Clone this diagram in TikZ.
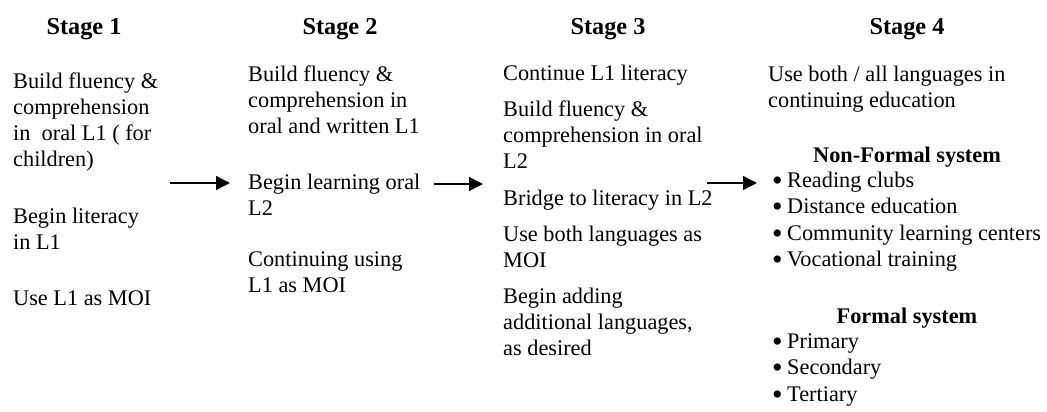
\documentclass[tikz,border=0pt]{standalone}
\usepackage{fontspec}
\setmainfont{Liberation Serif}
\usetikzlibrary{arrows.meta}
\usetikzlibrary{positioning}
\newcommand{\stagehead}[3]{\node(#1)[head] at (#2,35) {Stage #3}}
% node placed by the baseline of its last line
\newcommand{\pnode}[4]{\node(#1)[item] at (#2,#3) {#4}}
\newcommand{\bul}{\makebox[15pt][l]{\raisebox{-3pt}{\scalebox{1.35}{\textbullet}}}}

\begin{document}
\begin{tikzpicture}[
        x=1pt, y=-1pt,
        every node/.style={font=\fontsize{22.3}{26}\selectfont},
        head/.style={anchor=base, inner sep=0pt,
                     font=\fontsize{24.3}{28}\selectfont\bfseries},
        sub/.style={anchor=base, inner sep=0pt,
                    font=\fontsize{22.3}{26}\selectfont\bfseries},
        item/.style={anchor=base west, align=left, inner sep=0pt},
        blist/.style={item, font=\fontsize{22.3}{26.5}\selectfont},
        go/.style={line width=1.3pt, -{Triangle[length=14pt,width=14pt]}}
      ]
      \useasboundingbox (0,0) rectangle (1047,412);

      % stage titles
      \stagehead{st1}{84}{1};
      \stagehead{st2}{340}{2};
      \stagehead{st3}{608}{3};
      \stagehead{st4}{907}{4};

      % stage 1
      \pnode{s1a}{13}{166}{Build fluency \&\\comprehension\\in\ \ oral L1 ( for\\children)};
      \pnode{s1b}{13}{249}{Begin literacy\\in L1};
      \pnode{s1c}{13}{305}{Use L1 as MOI};

      % stage 2
      \pnode{s2a}{248}{133}{Build fluency \&\\comprehension in\\oral and written L1};
      \pnode{s2b}{248}{215}{Begin learning oral\\L2};
      \pnode{s2c}{248}{292}{Continuing using\\L1 as MOI};

      % stage 3
      \pnode{s3a}{503}{81}{Continue L1 literacy};
      \pnode{s3b}{503}{168}{Build fluency \&\\comprehension in oral\\L2};
      \pnode{s3c}{503}{205}{Bridge to literacy in L2};
      \pnode{s3d}{503}{267}{Use both languages as\\MOI};
      \pnode{s3e}{503}{355}{Begin adding\\additional languages,\\as desired};

      % stage 4
      \pnode{s4a}{768}{107}{Use both / all languages in\\continuing education};
      \node(nfhead)[sub] at (907,162) {Non-Formal system};
      \node(nflist)[blist] at (772,266.5) {\bul Reading clubs\\\bul Distance education\\\bul Community learning centers\\\bul Vocational training};
      \node(fhead)[sub] at (907,323) {Formal system};
      \node(flist)[blist] at (772,401) {\bul Primary\\\bul Secondary\\\bul Tertiary};

      % arrows between stages
      \coordinate (a1) at (170,183);
      \coordinate (b1) at (230,183);
      \coordinate (a2) at (434,184);
      \coordinate (b2) at (483,184);
      \coordinate (a3) at (707,183);
      \coordinate (b3) at (757,183);
      \draw[go] (a1) -- (b1);
      \draw[go] (a2) -- (b2);
      \draw[go] (a3) -- (b3);
    \end{tikzpicture}
\end{document}
